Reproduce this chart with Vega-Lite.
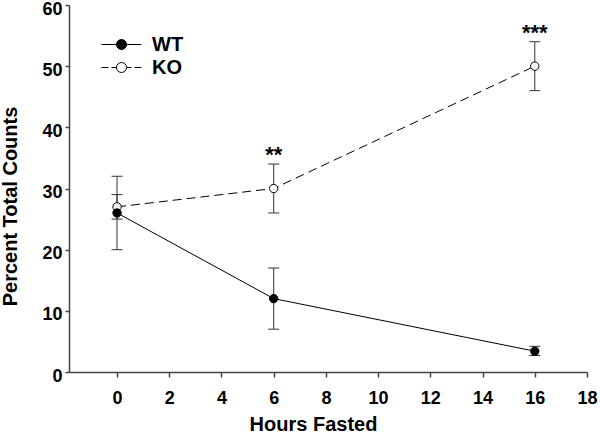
{
  "$schema": "https://vega.github.io/schema/vega-lite/v6.json",
  "width": 518,
  "height": 367,
  "autosize": "none",
  "padding": {"left": 69, "top": 5, "right": 13, "bottom": 61},
  "background": "white",
  "config": {
    "view": {"stroke": null},
    "font": "Liberation Sans",
    "axis": {
      "grid": false,
      "domainColor": "#444",
      "domainWidth": 1.5,
      "tickColor": "#444",
      "tickWidth": 1.5,
      "labelFont": "Liberation Sans",
      "labelFontSize": 18,
      "labelFontWeight": "bold",
      "labelColor": "black",
      "titleFont": "Liberation Sans",
      "titleFontSize": 20,
      "titleFontWeight": "bold",
      "titleColor": "black",
      "labelFlush": false,
      "labelOverlap": false
    },
    "legend": {
      "title": null,
      "orient": "none",
      "legendX": 42,
      "legendY": 29,
      "padding": 0,
      "symbolSize": 400,
      "symbolStrokeWidth": 1,
      "symbolOpacity": 1,
      "labelOffset": 20,
      "rowPadding": 2,
      "labelFont": "Liberation Sans",
      "labelFontSize": 20,
      "labelFontWeight": "bold",
      "labelColor": "black"
    }
  },
  "datasets": {
    "series": [
      {"group": "KO", "hours": 0, "mean": 27, "lo": 25, "hi": 29},
      {"group": "KO", "hours": 6, "mean": 30, "lo": 26, "hi": 34},
      {"group": "KO", "hours": 16, "mean": 50, "lo": 46, "hi": 54},
      {"group": "WT", "hours": 0, "mean": 26, "lo": 20, "hi": 32},
      {"group": "WT", "hours": 6, "mean": 12, "lo": 7, "hi": 17},
      {"group": "WT", "hours": 16, "mean": 3.4, "lo": 2.7, "hi": 4.2}
    ],
    "sig": [
      {"hours": 6, "hi": 34, "label": "**"},
      {"hours": 16, "hi": 54, "label": "***"}
    ]
  },
  "encoding": {
    "x": {
      "field": "hours",
      "type": "quantitative",
      "scale": {"domain": [-1.84, 18], "nice": false, "zero": false},
      "axis": {
        "values": [0, 2, 4, 6, 8, 10, 12, 14, 16, 18],
        "title": "Hours Fasted",
        "tickSize": 5,
        "labelPadding": 12,
        "titleX": 244,
        "titleY": 58,
        "titleAlign": "center",
        "titleBaseline": "alphabetic"
      }
    }
  },
  "layer": [
    {
      "data": {"name": "series"},
      "mark": {"type": "rule", "color": "#333", "strokeWidth": 1},
      "encoding": {
        "y": {
          "field": "lo",
          "type": "quantitative",
          "scale": {"domain": [0, 60], "nice": false},
          "axis": {
            "values": [0, 10, 20, 30, 40, 50, 60],
            "title": "Percent Total Counts",
            "tickSize": 4,
            "labelPadding": 3,
            "labelOffset": 4,
            "titleX": -53,
            "titleY": 201,
            "titleAngle": -90,
            "titleAlign": "center",
            "titleBaseline": "alphabetic"
          }
        },
        "y2": {"field": "hi"}
      }
    },
    {
      "data": {"name": "series"},
      "mark": {"type": "tick", "orient": "horizontal", "size": 11, "thickness": 1, "color": "#333", "opacity": 1},
      "encoding": {
        "y": {"field": "lo", "type": "quantitative", "title": "Percent Total Counts"}
      }
    },
    {
      "data": {"name": "series"},
      "mark": {"type": "tick", "orient": "horizontal", "size": 11, "thickness": 1, "color": "#333", "opacity": 1},
      "encoding": {
        "y": {"field": "hi", "type": "quantitative", "title": "Percent Total Counts"}
      }
    },
    {
      "data": {"name": "series"},
      "transform": [{"filter": "datum.group === 'KO'"}],
      "mark": {"type": "line", "color": "black", "strokeWidth": 1, "strokeDash": [9, 5]},
      "encoding": {
        "y": {"field": "mean", "type": "quantitative", "title": "Percent Total Counts"}
      }
    },
    {
      "data": {"name": "series"},
      "transform": [{"filter": "datum.group === 'WT'"}],
      "mark": {"type": "line", "color": "black", "strokeWidth": 1},
      "encoding": {
        "y": {"field": "mean", "type": "quantitative", "title": "Percent Total Counts"}
      }
    },
    {
      "data": {"name": "series"},
      "mark": {"type": "point", "filled": true, "strokeWidth": 1, "size": 0},
      "encoding": {
        "y": {"field": "mean", "type": "quantitative", "title": "Percent Total Counts"},
        "fill": {
          "field": "group",
          "type": "nominal",
          "scale": {"domain": ["WT", "KO"], "range": ["black", "white"]}
        },
        "stroke": {
          "field": "group",
          "type": "nominal",
          "scale": {"domain": ["WT", "KO"], "range": ["black", "black"]}
        },
        "shape": {
          "field": "group",
          "type": "nominal",
          "scale": {
            "domain": ["WT", "KO"],
            "range": [
              "M-2,0H2M0.5,0A0.5,0.5,0,1,1,-0.5,0A0.5,0.5,0,1,1,0.5,0Z",
              "M-2,0H-1.3M-1,0H-0.5M0.5,0H1M1.3,0H2M0.5,0A0.5,0.5,0,1,1,-0.5,0A0.5,0.5,0,1,1,0.5,0Z"
            ]
          }
        }
      }
    },
    {
      "data": {"name": "series"},
      "mark": {"type": "point", "shape": "circle", "size": 70, "stroke": "black", "strokeWidth": 1, "opacity": 1, "filled": true},
      "encoding": {
        "y": {"field": "mean", "type": "quantitative", "title": "Percent Total Counts"},
        "fill": {
          "field": "group",
          "type": "nominal",
          "scale": {"domain": ["WT", "KO"], "range": ["black", "white"]}
        }
      }
    },
    {
      "data": {"name": "sig"},
      "mark": {"type": "text", "font": "Liberation Sans", "fontSize": 22, "fontWeight": "bold", "baseline": "alphabetic", "align": "center", "dy": -2, "color": "black"},
      "encoding": {
        "y": {"field": "hi", "type": "quantitative", "title": "Percent Total Counts"},
        "text": {"field": "label"}
      }
    }
  ]
}
